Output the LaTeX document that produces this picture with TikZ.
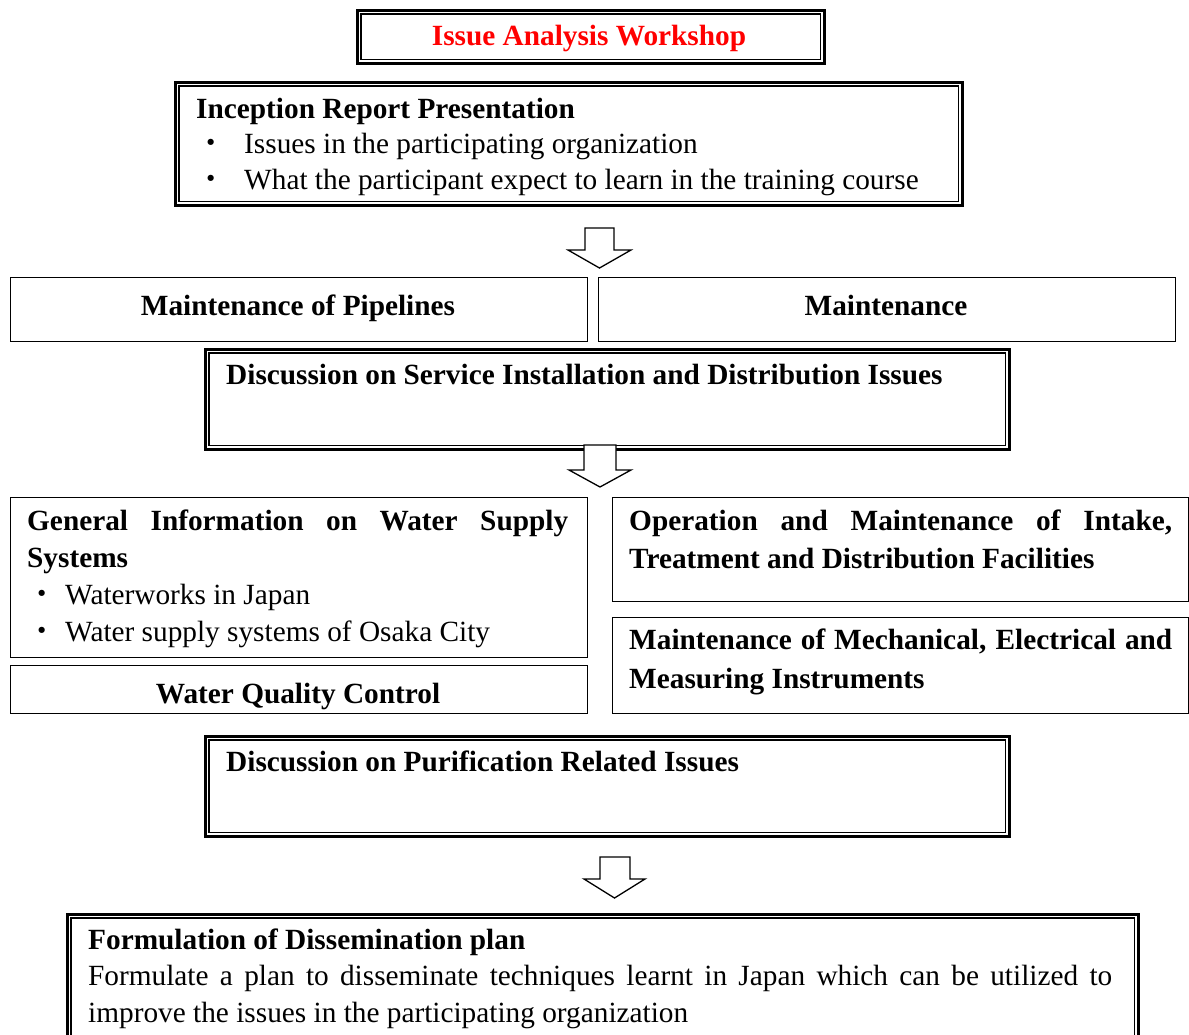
\documentclass[tikz,border=0pt]{standalone}
\usepackage{fontspec}
\setmainfont{Liberation Serif}
\newfontfamily\cjkfont{Noto Sans CJK JP}
\definecolor{titlered}{RGB}{255,0,0}
\newcommand\resetsp{\spaceskip=0pt\xspaceskip=0pt\relax}
\begin{document}
\begin{tikzpicture}[x=1pt,y=-1pt,
  sbox/.style={draw=black, line width=1.3pt, inner sep=0pt, anchor=north west},
  dout/.style={draw=black, line width=2.6pt, inner sep=0pt, anchor=north west},
  din/.style={draw=black, line width=1.4pt},
  txt/.style={inner sep=0pt, anchor=base west, font=\fontsize{29.3}{37}\selectfont},
  ctxt/.style={inner sep=0pt, anchor=base, font=\fontsize{29.3}{37}\selectfont\bfseries},
  barrow/.style={draw=black, fill=white, line width=1.3pt, line join=miter}
]
\clip (0,0) rectangle (1189,1034);
\fill[white] (0,0) rectangle (1189,1034);

% ---- top title box
\node[dout, minimum width=467pt, minimum height=53pt] (top) at (356,9) {};
\draw[din] ([shift={(5,5)}]top.north west) rectangle ([shift={(-5,-5)}]top.south east);
\node[ctxt, text=titlered] (topt) at (589,45) {Issue Analysis Workshop};

% ---- inception
\node[dout, minimum width=787pt, minimum height=123pt] (inc) at (174,81) {};
\draw[din] ([shift={(5,5)}]inc.north west) rectangle ([shift={(-5,-5)}]inc.south east);
\node[txt, text width=740pt, font=\fontsize{29.3}{35.5}\selectfont] (inct) at (196,118)
  {\resetsp\textbf{Inception Report Presentation}\\
   \makebox[48pt][l]{\cjkfont ・}Issues in the participating organization\\
   \makebox[48pt][l]{\cjkfont ・}What the participant expect to learn in the training course};

% ---- row 1
\node[sbox, minimum width=577pt, minimum height=64pt] (pipe) at (10,277) {};
\node[ctxt] (pipet) at (298,315) {Maintenance of Pipelines};
\node[sbox, minimum width=577pt, minimum height=64pt] (maint) at (598,277) {};
\node[ctxt] (maintt) at (886,315) {Maintenance};

% ---- service discussion
\node[dout, minimum width=804pt, minimum height=100pt] (svc) at (204,348) {};
\draw[din] ([shift={(5,5)}]svc.north west) rectangle ([shift={(-5,-5)}]svc.south east);
\node[txt] (svct) at (226,384) {\textbf{Discussion on Service Installation and Distribution Issues}};

% ---- general info
\node[sbox, minimum width=577pt, minimum height=160pt] (gen) at (10,497) {};
\node[txt, text width=545pt] (gent) at (27,530)
  {\resetsp\textbf{\makebox[541pt][s]{General Information on Water Supply}}\\
   \textbf{Systems}\\
   \makebox[38pt][l]{\cjkfont ・}Waterworks in Japan\\
   \makebox[38pt][l]{\cjkfont ・}Water supply systems of Osaka City};

% ---- water quality
\node[sbox, minimum width=577pt, minimum height=48pt] (wq) at (10,665) {};
\node[ctxt] (wqt) at (298,703) {Water Quality Control};

% ---- operation
\node[sbox, minimum width=576pt, minimum height=104pt] (op) at (612,497) {};
\node[txt, text width=545pt, font=\fontsize{29.3}{38}\selectfont\bfseries] (opt) at (629,530)
  {\resetsp\makebox[543pt][s]{Operation and Maintenance of Intake,}\\
   Treatment and Distribution Facilities};

% ---- mechanical
\node[sbox, minimum width=576pt, minimum height=96pt] (mech) at (612,617) {};
\node[txt, text width=545pt, font=\fontsize{29.3}{39}\selectfont\bfseries] (mecht) at (629,649)
  {\resetsp\makebox[543pt][s]{Maintenance of Mechanical, Electrical and}\\
   Measuring Instruments};

% ---- purification discussion
\node[dout, minimum width=804pt, minimum height=100pt] (pur) at (204,735) {};
\draw[din] ([shift={(5,5)}]pur.north west) rectangle ([shift={(-5,-5)}]pur.south east);
\node[txt] (purt) at (226,771) {\textbf{Discussion on Purification Related Issues}};

% ---- formulation
\node[dout, minimum width=1071pt, minimum height=140pt] (form) at (66,913) {};
\draw[din] ([shift={(5,5)}]form.north west) rectangle ([shift={(-5,-5)}]form.south east);
\node[txt, text width=1030pt, font=\fontsize{29.3}{36.5}\selectfont] (formt) at (88,949)
  {\resetsp\textbf{Formulation of Dissemination plan}\\
   \makebox[1024pt][s]{Formulate a plan to disseminate techniques learnt in Japan which can be utilized to}\\
   improve the issues in the participating organization};

% ---- block arrows
\draw[barrow] (585,228) -- (614,228) -- (614,250) -- (631,250) -- (599.5,268)
  -- (568,250) -- (585,250) -- cycle;
\draw[barrow] (584,445) -- (616,445) -- (616,470) -- (631,470) -- (600,487)
  -- (569,470) -- (584,470) -- cycle;
\draw[barrow] (600,857) -- (630,857) -- (630,879) -- (645,879) -- (614.5,898)
  -- (584,879) -- (600,879) -- cycle;
\end{tikzpicture}
\end{document}
